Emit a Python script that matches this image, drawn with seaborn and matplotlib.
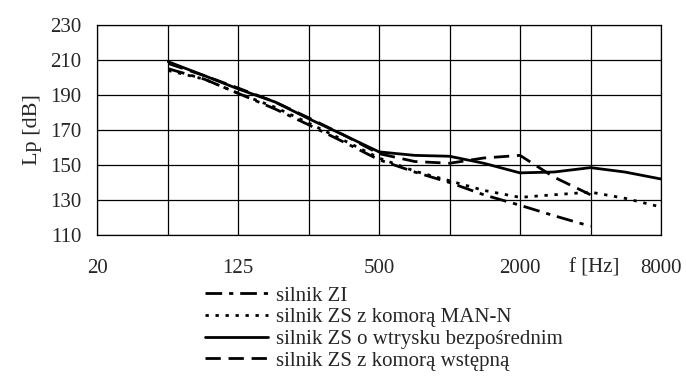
import matplotlib
matplotlib.use("Agg")
import matplotlib.pyplot as plt
import seaborn as sns
from matplotlib.transforms import offset_copy

# Data (frequency in Hz, level in dB)
freq = [63, 90, 125, 180, 250, 355, 500, 710, 1000, 1400, 2000, 2800, 4000, 5600, 8000]
zi = [205, 199, 191, 182, 173, 163, 153, 146, 140, 133, 127, 121, 115]
man_n = [204, 199, 191, 183, 174, 164, 154, 146.5, 141, 135.5, 131.5, 133, 134.5, 131, 126]
bezp = [209, 201, 193.5, 186, 176.5, 167, 157.5, 155.5, 155, 151, 145.5, 146, 148.5, 146, 142]
wstepna = [208, 201, 194, 186, 177, 167, 156.5, 152, 151, 154, 155.5, 143, 133]

labels = ["silnik ZI", "silnik ZS z komorą MAN-N",
          "silnik ZS o wtrysku bezpośrednim", "silnik ZS z komorą wstępną"]
x_tick_vals = [31.25, 125, 500, 2000, 8000]
x_tick_labels = ["20", "125", "500", "2000", "8000"]
y_ticks = [110, 130, 150, 170, 190, 210, 230]

sns.set_style("white")
plt.rcParams['font.family'] = ['Liberation Serif', 'DejaVu Serif']

fig = plt.figure(figsize=(6.86, 3.89), dpi=100)
ax = fig.add_axes([97/686, 1-235/389, (661-97)/686, (235-25)/389])

series = [zi, man_n, bezp, wstepna]
styles = [(0, (6, 2.5, 1.5, 2.5)), (0, (1.2, 2.4)), '-', (0, (5.5, 2.8))]
for vals, lab, ls in zip(series, labels, styles):
    sns.lineplot(x=freq[:len(vals)], y=vals, ax=ax, color='black', linestyle=ls,
                 linewidth=2.0, label=lab)

ax.set_xscale('log', base=2)
ax.set_xlim(31.25, 8000)
ax.set_ylim(110, 230)
ax.set_xticks(x_tick_vals)
ax.set_xticklabels(x_tick_labels)
ax.xaxis.set_minor_locator(matplotlib.ticker.FixedLocator([62.5, 250, 1000, 4000]))
ax.xaxis.set_minor_formatter(matplotlib.ticker.NullFormatter())
ax.set_yticks(y_ticks)
ax.grid(True, which='both', axis='x', color='black', linewidth=0.9)
ax.grid(True, which='major', axis='y', color='black', linewidth=0.9)
ax.tick_params(axis='x', which='both', length=0, pad=17, labelsize=15)
ax.tick_params(axis='y', length=0, pad=11, labelsize=15)
for s in ax.spines.values():
    s.set_color('black')
    s.set_linewidth(0.9)
ax.set_xlabel("")
ax.set_ylabel("Lp [dB]", fontsize=16, labelpad=6)
ax.text(4150, 110, "f [Hz]", ha='center', va='top', fontsize=15,
        transform=offset_copy(ax.transData, fig=fig, y=-17, units='points'))

h, l = ax.get_legend_handles_labels()
ax.get_legend().remove()
fig.legend(h, l, loc='upper left', bbox_to_anchor=(205/686, 1-286/389), frameon=False,
           fontsize=15, handlelength=3.0, handletextpad=0.4, labelspacing=0.1,
           borderpad=0, borderaxespad=0)

fig.savefig("out.png", dpi=100)
